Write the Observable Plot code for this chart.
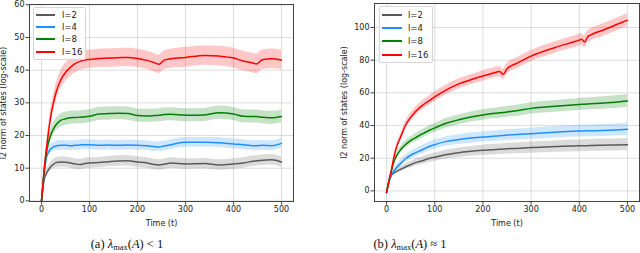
<!DOCTYPE html>
<html><head><meta charset="utf-8">
<script src="https://cdn.jsdelivr.net/npm/d3@7"></script>
<script src="https://cdn.jsdelivr.net/npm/@observablehq/plot@0.6"></script>
<style>
body{margin:0;background:#fff;}
#wrap{position:relative;width:640px;height:253px;overflow:hidden;font-family:"DejaVu Sans",sans-serif;}
.panel{position:absolute;top:0;}
.cap{position:absolute;top:237px;font-family:"Liberation Serif","DejaVu Serif",serif;font-size:12.5px;white-space:nowrap;transform:translateX(-50%);color:#111;}
.cap sub{font-size:8.5px;vertical-align:-2px;font-style:normal;}
.leg{position:absolute;background:rgba(255,255,255,0.85);border:1px solid #d6d6d6;border-radius:2px;box-sizing:border-box;}
.row{position:absolute;font-size:8.5px;color:#222;white-space:nowrap;line-height:10px;}
.sw{position:absolute;height:2px;}
</style></head>
<body><div id="wrap"></div>
<script>
// ---------- data ----------
const seriesNames = ["l=2", "l=4", "l=8", "l=16"];
const seriesColors = ["#5a5a5a", "#1e90ff", "#008000", "#ff0000"];
const xTicks = [0, 100, 200, 300, 400, 500];
const yTicksLeft = [0, 10, 20, 30, 40, 50, 60];
const yTicksRight = [0, 20, 40, 60, 80, 100];

// panel (a): lambda_max(A) < 1
const leftT = [0,3,6,10,15,20,25,30,40,50,60,70,80,90,100,120,140,160,180,200,220,235,245,255,270,300,340,370,400,420,440,448,460,480,500];
const leftL2  = [0,4,6.8,8.3,9.6,10.6,11.2,11.7,11.9,11.8,11.6,11.3,11.1,11.4,11.6,11.7,12.0,12.2,12.3,11.9,11.6,11.1,11.0,11.2,11.6,11.3,11.4,11.0,11.3,11.6,12.1,12.3,12.4,12.6,11.9];
const leftL4  = [0,4.5,9,13,15,16,16.5,16.8,17.0,17.0,16.9,17.0,17.1,17.2,17.2,17.0,17.1,17.0,17.1,17.0,16.9,16.6,16.5,16.8,17.2,17.9,17.9,17.8,17.4,17.2,16.9,16.9,17.0,16.9,17.6];
const leftL8  = [0,5,10,14.5,18,20.5,22,23.2,24.6,25.1,25.4,25.5,25.6,25.7,25.9,26.6,26.7,26.8,26.7,26.1,26.0,26.1,26.2,26.4,26.5,26.2,26.3,27.0,26.6,25.9,25.8,25.8,25.6,25.4,25.8];
const leftL16 = [0,5,10,15.5,21.5,26.5,30,33,37,39.3,40.8,42,42.7,43.1,43.3,43.6,43.7,43.8,43.9,43.6,43.0,42.3,41.8,43.0,43.5,43.9,44.5,44.3,43.7,42.8,42.2,41.9,43.2,43.5,43.1];
const leftBand2  = [0,0.4,0.7,0.9,1.1,1.3,1.4,1.5,1.6,1.6,1.6,1.6,1.6,1.6,1.6,1.6,1.6,1.6,1.6,1.6,1.6,1.6,1.6,1.6,1.6,1.6,1.6,1.6,1.6,1.6,1.6,1.6,1.6,1.6,1.6];
const leftBand4  = [0,0.4,0.7,0.9,1.1,1.2,1.3,1.4,1.5,1.5,1.5,1.5,1.5,1.5,1.5,1.5,1.5,1.5,1.5,1.5,1.5,1.5,1.5,1.5,1.5,1.5,1.5,1.5,1.5,1.5,1.5,1.5,1.5,1.5,1.5];
const leftBand8  = [0,0.4,0.8,1.2,1.5,1.7,1.8,1.9,2,2,2,2,2,2,2,2,2,2,2,2,2,2,2,2,2,2,2,2,2,2,2,2,2,2,2];
const leftBand16 = [0,0.5,1,1.5,2,2.3,2.5,2.6,2.7,2.8,2.8,2.8,2.8,2.8,2.8,2.8,2.8,2.8,2.8,2.8,2.8,2.8,2.8,2.9,2.9,3,3,3,3,3,3,3,3,3,3];

// panel (b): lambda_max(A) ~ 1
const rightT = [0,5,10,15,20,30,40,50,60,75,90,100,125,150,175,200,220,235,242,250,270,300,350,400,405,411,418,424,450,475,500];
const rightL2  = [-1,6,9.5,10.8,11.8,13.3,14.8,16,17.3,18.5,20,20.6,22.3,23.4,24.2,24.9,25.2,25.5,25.6,25.8,26.0,26.5,27.1,27.6,27.6,27.7,27.7,27.8,28,28.1,28.3];
const rightL4  = [-1,5.5,9.5,12,14,17,19.8,21.8,23.3,25.3,27.3,28.3,30.3,31.4,32.3,33,33.4,33.8,33.9,34.2,34.5,35,35.9,36.6,36.6,36.7,36.8,36.8,37.0,37.3,37.7];
const rightL8  = [-1,6,12,17.5,21,25.5,28.5,30.8,32.5,35,37.3,38.5,41.5,43.5,45.2,46.5,47.3,47.8,48.0,48.3,49.0,50.5,51.8,52.9,53.0,53.1,53.2,53.3,53.8,54.3,55.0];
const rightL16 = [-1,6,12.5,20,26,33.5,40.5,45,48.5,52.5,55.5,57.5,62,65.5,68,70.3,72,73,71.4,74.7,78,82.5,87.8,92.3,92.8,91.2,94.5,95.5,98.5,101.5,104.5];
const rightBand2  = [0,0.5,0.8,1,1.2,1.4,1.6,1.8,2,2.2,2.4,2.5,2.7,2.9,3,3.1,3.2,3.2,3.3,3.3,3.3,3.4,3.5,3.6,3.6,3.6,3.6,3.6,3.7,3.7,3.8];
const rightBand4  = [0,0.5,1,1.3,1.6,2,2.2,2.4,2.5,2.6,2.7,2.8,2.9,3,3.1,3.1,3.2,3.2,3.2,3.3,3.3,3.4,3.5,3.6,3.6,3.6,3.6,3.6,3.7,3.7,3.8];
const rightBand8  = [0,0.5,1,1.3,1.6,2,2.2,2.4,2.5,2.6,2.7,2.8,2.9,3,3.1,3.2,3.2,3.3,3.3,3.3,3.4,3.5,3.6,3.7,3.7,3.7,3.7,3.7,3.8,3.9,4];
const rightBand16 = [0,0.5,1,1.5,1.8,2,2.3,2.5,2.6,2.8,2.9,3,3,3.1,3.1,3.2,3.2,3.2,3.2,3.3,3.3,3.4,3.5,3.6,3.6,3.6,3.6,3.7,3.8,3.9,4];

// ---------- build ----------
function rows(T, means, bands) {
  const out = [];
  means.forEach((m, i) => T.forEach((t, j) => out.push({s: seriesNames[i], t, v: m[j], lo: m[j] - bands[i][j], hi: m[j] + bands[i][j]})));
  return out;
}
const leftRows = rows(leftT, [leftL2, leftL4, leftL8, leftL16], [leftBand2, leftBand4, leftBand8, leftBand16]);
const rightRows = rows(rightT, [rightL2, rightL4, rightL8, rightL16], [rightBand2, rightBand4, rightBand8, rightBand16]);

function panel(data, yDomain, yTicks, m, labelOffsetY) {
  return Plot.plot({
    width: 320, height: 230,
    marginLeft: m[0], marginRight: m[1], marginTop: m[2], marginBottom: m[3],
    x: {domain: [-25, 525]},
    y: {domain: yDomain},
    color: {domain: seriesNames, range: seriesColors},
    style: {fontFamily: "DejaVu Sans", fontSize: "8px", color: "#222", background: "transparent"},
    marks: [
      Plot.gridX(xTicks, {stroke: "#b8b8b8", strokeOpacity: 0.6, strokeWidth: 0.8}),
      Plot.gridY(yTicks, {stroke: "#b8b8b8", strokeOpacity: 0.6, strokeWidth: 0.8}),
      Plot.areaY(data, {x: "t", y1: "lo", y2: "hi", z: "s", fill: "s", fillOpacity: 0.22, curve: "monotone-x"}),
      Plot.lineY(data, {x: "t", y: "v", z: "s", stroke: "s", strokeWidth: 1.5, curve: "monotone-x"}),
      Plot.frame({stroke: "#444", strokeWidth: 1}),
      Plot.axisX(xTicks, {tickSize: 3.5, tickPadding: 1.5, stroke: "#444", label: "Time (t)", labelAnchor: "center", labelArrow: "none", labelOffset: 24}),
      Plot.axisY(yTicks, {tickSize: 3.5, tickPadding: 1.5, stroke: "#444", label: "l2 norm of states (log-scale)", labelAnchor: "center", labelArrow: "none", labelOffset: labelOffsetY})
    ]
  });
}

const wrap = document.getElementById("wrap");
const pL = panel(leftRows, [-0.2, 60.1], yTicksLeft, [29, 27, 4, 29], 29);
pL.classList.add("panel"); pL.style.left = "0px";
wrap.appendChild(pL);
const pR = panel(rightRows, [-6.5, 114.7], yTicksRight, [54, 1, 3, 29], 33.5);
pR.classList.add("panel"); pR.style.left = "320px";
wrap.appendChild(pR);

function legend(box, lineX0, lineX1, textX, ys) {
  const d = document.createElement("div");
  d.className = "leg";
  d.style.left = box[0] + "px"; d.style.top = box[1] + "px";
  d.style.width = (box[2] - box[0]) + "px"; d.style.height = (box[3] - box[1]) + "px";
  wrap.appendChild(d);
  seriesNames.forEach((n, i) => {
    const sw = document.createElement("div");
    sw.className = "sw";
    sw.style.left = lineX0 + "px"; sw.style.width = (lineX1 - lineX0) + "px";
    sw.style.top = (ys[i] - 1) + "px"; sw.style.background = seriesColors[i];
    wrap.appendChild(sw);
    const t = document.createElement("div");
    t.className = "row"; t.textContent = n;
    t.style.left = textX + "px"; t.style.top = (ys[i] - 5) + "px";
    wrap.appendChild(t);
  });
}
legend([33, 7, 86, 60], 36, 55, 62, [14.7, 26.7, 39.3, 52]);
legend([379, 6, 433, 63], 382, 401.5, 408, [14.7, 28, 41.3, 54.7]);

function caption(html, cx) {
  const c = document.createElement("div");
  c.className = "cap"; c.innerHTML = html; c.style.left = cx + "px";
  wrap.appendChild(c);
}
caption('(a) <i>λ</i><sub>max</sub>(<i>A</i>) &lt; 1', 127);
caption('(b) <i>λ</i><sub>max</sub>(<i>A</i>) ≈ 1', 410);
</script></body></html>
